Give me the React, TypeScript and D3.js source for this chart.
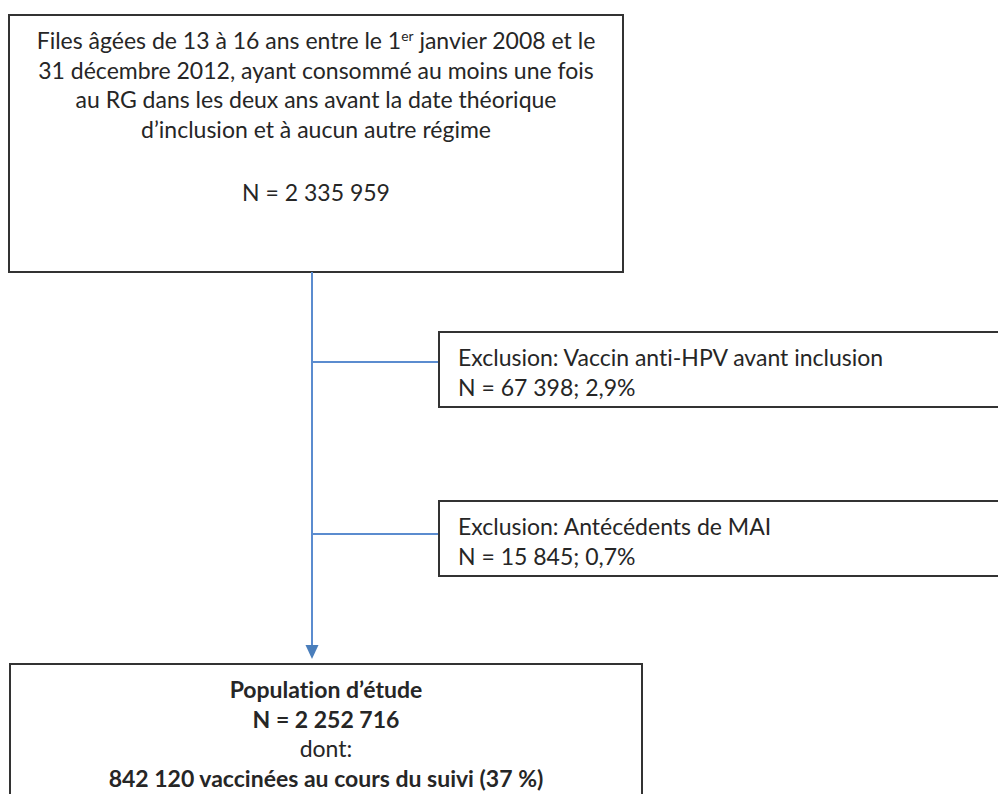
import React, { useEffect, useRef } from "react";
import * as d3 from "d3";

// Flow chart content
const inclusionLines = [
  ["Files âgées de 13 à 16 ans entre le 1", "er", " janvier 2008 et le"],
  ["31 décembre 2012, ayant consommé au moins une fois"],
  ["au RG dans les deux ans avant la date théorique"],
  ["d’inclusion et à aucun autre régime"],
];
const inclusionCount = "N = 2 335 959";
const exclusionLabels = [
  "Exclusion: Vaccin anti-HPV avant inclusion",
  "Exclusion: Antécédents de MAI",
];
const exclusionCounts = ["N = 67 398; 2,9%", "N = 15 845; 0,7%"];
const studyLines = [
  "Population d’étude",
  "N = 2 252 716",
  "dont:",
  "842 120 vaccinées au cours du suivi (37 %)",
];
const studyBold = [true, true, false, true];

const App = () => {
  const ref = useRef<SVGSVGElement | null>(null);

  useEffect(() => {
    const svg = d3.select(ref.current);
    svg.selectAll("*").remove();

    const font = "Lato, 'Open Sans', sans-serif";
    const fs = 23;
    const boxStroke = "#333";
    const flowColor = "#5b8ccf";

    // shared text style
    const styleText = (sel) =>
      sel.style("font-family", font)
        .style("font-size", `${fs}px`)
        .style("font-variant-ligatures", "none")
        .style("fill", "#262626");

    // Top box
    const top = { x: 9, y: 15, w: 614, h: 257 };
    svg.append("rect")
      .attr("x", top.x).attr("y", top.y)
      .attr("width", top.w).attr("height", top.h)
      .attr("fill", "#fff").attr("stroke", boxStroke).attr("stroke-width", 2);

    const cx = top.x + top.w / 2;
    const lineY = d3.scaleLinear().domain([0, 1]).range([49, 78.5]);
    inclusionLines.forEach((parts, i) => {
      const t = svg.append("text")
        .attr("x", cx).attr("y", lineY(i))
        .attr("text-anchor", "middle")
        .call(styleText);
      parts.forEach((p, j) => {
        const ts = t.append("tspan").text(p);
        if (parts.length === 3 && j === 1) {
          ts.attr("dy", -8).style("font-size", `${fs * 0.6}px`);
        } else if (parts.length === 3 && j === 2) {
          ts.attr("dy", 8);
        }
      });
    });
    svg.append("text")
      .attr("x", cx).attr("y", 201)
      .attr("text-anchor", "middle")
      .call(styleText)
      .text(inclusionCount);

    // Main flow line with arrow
    const spineX = 312;
    const line = d3.line();
    svg.append("path")
      .attr("d", line([[spineX, top.y + top.h], [spineX, 646]]))
      .attr("stroke", flowColor).attr("stroke-width", 2).attr("fill", "none");
    svg.append("path")
      .attr("d", line([[spineX - 6.5, 645], [spineX + 6.5, 645], [spineX, 659]]) + "Z")
      .attr("fill", "#4a7ebb");

    // Exclusion boxes
    const exclTops = [332, 501];
    const exclH = 75;
    const boxX = 439;
    exclusionLabels.forEach((label, i) => {
      const y0 = exclTops[i];
      const connY = y0 + (i === 0 ? 30 : 33);
      svg.append("path")
        .attr("d", line([[spineX, connY], [boxX, connY]]))
        .attr("stroke", flowColor).attr("stroke-width", 2).attr("fill", "none");
      svg.append("rect")
        .attr("x", boxX).attr("y", y0)
        .attr("width", 700).attr("height", exclH)
        .attr("fill", "#fff").attr("stroke", boxStroke).attr("stroke-width", 2);
      svg.append("text")
        .attr("x", boxX + 19).attr("y", y0 + 34)
        .call(styleText)
        .text(label);
      svg.append("text")
        .attr("x", boxX + 19).attr("y", y0 + 64)
        .call(styleText)
        .text(exclusionCounts[i]);
    });

    // Study population box
    const bot = { x: 10, y: 664, w: 632, h: 200 };
    svg.append("rect")
      .attr("x", bot.x).attr("y", bot.y)
      .attr("width", bot.w).attr("height", bot.h)
      .attr("fill", "#fff").attr("stroke", boxStroke).attr("stroke-width", 2);
    const bcx = 326;
    const botY = d3.scaleLinear().domain([0, 1]).range([698, 727.5]);
    studyLines.forEach((s, i) => {
      svg.append("text")
        .attr("x", bcx).attr("y", botY(i))
        .attr("text-anchor", "middle")
        .call(styleText)
        .style("font-weight", studyBold[i] ? "bold" : "normal")
        .text(s);
    });
  }, []);

  return (
    <svg
      ref={ref}
      width={998}
      height={794}
      style={{ position: "absolute", left: 0, top: 0, background: "#fff" }}
    />
  );
};

export default App;
